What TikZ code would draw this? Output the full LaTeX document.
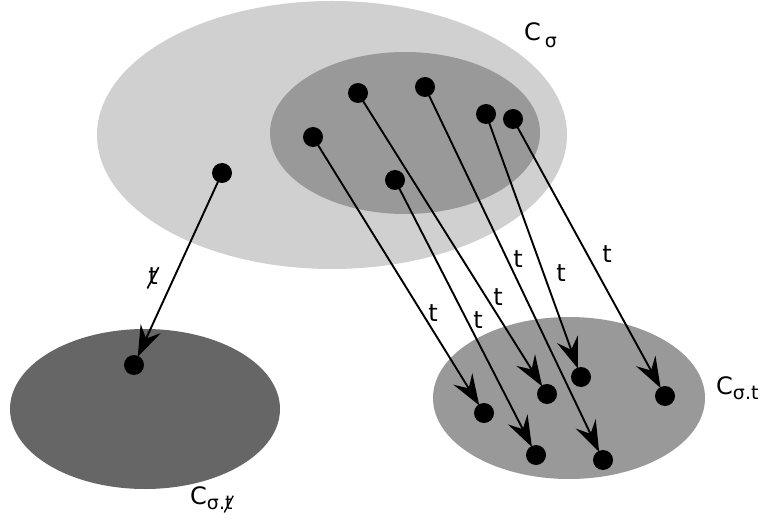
\documentclass[tikz,border=0pt]{standalone}
\usepackage{fontspec}
\usepackage{graphicx}
\setmainfont{DejaVu Sans}
\usetikzlibrary{arrows.meta}
\definecolor{lightg}{HTML}{D0D0D0}
\definecolor{midg}{HTML}{999999}
\definecolor{darkg}{HTML}{666666}
\newcommand{\crosst}[1]{\ooalign{t\cr\hidewidth\raisebox{-0.2em}{\rotatebox{62}{\rule{#1}{0.07em}}}\hidewidth}}
\begin{document}
\begin{tikzpicture}[x=1pt,y=-1pt,
  dot/.style={circle,fill=black,inner sep=0pt,minimum size=20pt},
  conn/.style={line width=1.9pt,-{Stealth[length=31pt,width=22pt,inset=11pt]},shorten >=9pt},
  lab/.style={font=\fontsize{24}{28}\selectfont,inner sep=0pt}]
\useasboundingbox (0,0) rectangle (768,521);
\fill[lightg] (332,135) ellipse [x radius=235, y radius=134];
\fill[midg] (405,133) ellipse [x radius=135, y radius=81];
\fill[darkg] (145,409) ellipse [x radius=135, y radius=80];
\fill[midg] (569,398) ellipse [x radius=136, y radius=81];
% source dots
\node[dot] (s0) at (222,173) {};
\node[dot] (s1) at (313,137) {};
\node[dot] (s2) at (358,93) {};
\node[dot] (s3) at (425,87) {};
\node[dot] (s4) at (486,114) {};
\node[dot] (s5) at (513,119) {};
\node[dot] (s6) at (395,180) {};
% target dots
\node[dot] (t0) at (134,365) {};
\node[dot] (t1) at (484,413) {};
\node[dot] (t2) at (547,394) {};
\node[dot] (t3) at (581,377) {};
\node[dot] (t4) at (665,396) {};
\node[dot] (t5) at (536,455) {};
\node[dot] (t6) at (603,460) {};
% connectors
\draw[conn] (s0.center) -- (t0.center);
\draw[conn] (s1.center) -- (t1.center);
\draw[conn] (s6.center) -- (t5.center);
\draw[conn] (s2.center) -- (t2.center);
\draw[conn] (s3.center) -- (t6.center);
\draw[conn] (s4.center) -- (t3.center);
\draw[conn] (s5.center) -- (t4.center);
% labels
\node[lab] (l0) at (153,278) {\crosst{24pt}};
\node[lab] (l1) at (433,313) {t};
\node[lab] (l2) at (478,320) {t};
\node[lab] (l3) at (498,297) {t};
\node[lab] (l4) at (518,259) {t};
\node[lab] (l5) at (561,273) {t};
\node[lab] (l6) at (607,254) {t};
\node[lab,anchor=base west] (c1) at (524,41) {C\,\raisebox{-7pt}{\fontsize{19}{20}\selectfont σ}};
\node[lab,anchor=base west] (c2) at (716,394) {C\raisebox{-5pt}{\fontsize{19}{20}\selectfont σ.t}};
\node[lab,anchor=base west] (c3) at (190,504) {C\raisebox{-5pt}{\fontsize{19}{20}\selectfont σ.\crosst{19pt}}};
\end{tikzpicture}
\end{document}
